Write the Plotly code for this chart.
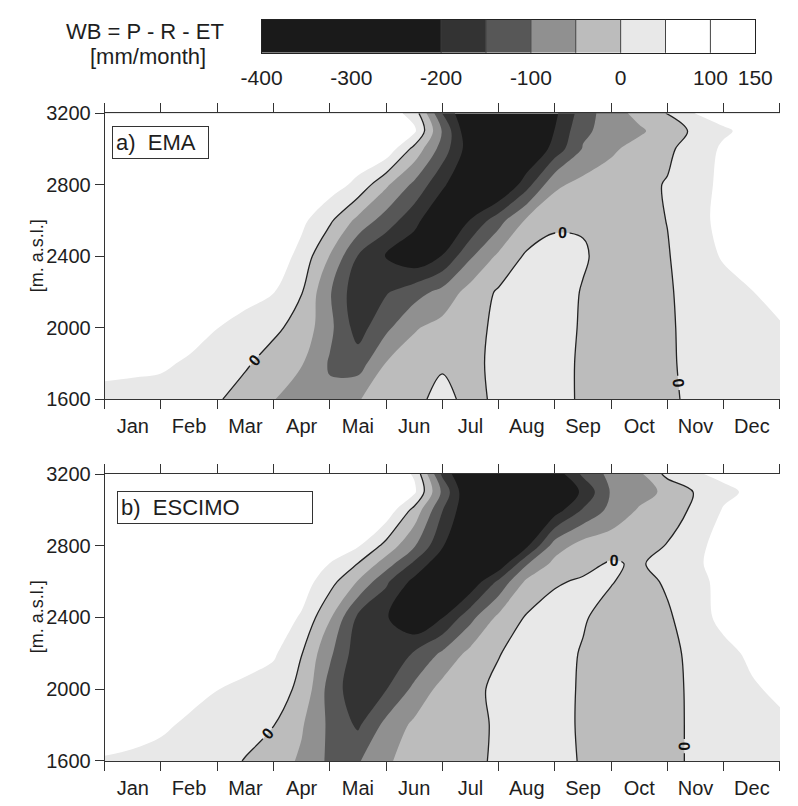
import plotly.graph_objects as go

# ---- data -------------------------------------------------------------
MONTHS = ["Jan", "Feb", "Mar", "Apr", "Mai", "Jun", "Jul", "Aug", "Sep", "Oct", "Nov", "Dec"]
MONTH_CENTERS = [0.5, 1.5, 2.5, 3.5, 4.5, 5.5, 6.5, 7.5, 8.5, 9.5, 10.5, 11.5]
ELEV_TICKS = [1600, 2000, 2400, 2800, 3200]

# time axis in months (0 = 1 Jan, 12 = 31 Dec), half-month steps
TIME_GRID = [0.0, 0.5, 1.0, 1.5, 2.0, 2.5, 3.0, 3.5, 4.0, 4.5, 5.0, 5.5, 6.0,
             6.5, 7.0, 7.5, 8.0, 8.5, 9.0, 9.5, 10.0, 10.5, 11.0, 11.5, 12.0]

# a) EMA water balance [mm/month], one row per elevation band
ELEV_EMA = [1600, 1800, 2000, 2200, 2400, 2600, 2800, 3000, 3100, 3200]
WB_EMA = [
    [40, 38, 35, 28, 5, -20, -48, -75, -90, -52, -35, -10, 12, -12, 8, 18, 14, -6, -22, -22, -8, 10, 20, 28, 35],
    [60, 58, 56, 45, 25, 6, -20, -47, -105, -125, -48, -25, -5, -8, 8, 18, 14, -6, -22, -22, -6, 12, 22, 32, 40],
    [90, 85, 78, 66, 51, 30, 10, -18, -88, -172, -112, -55, -33, -12, 8, 18, 15, -4, -22, -22, -5, 12, 25, 38, 47],
    [90, 90, 88, 85, 80, 70, 52, 2, -95, -185, -155, -122, -85, -30, 6, 22, 20, -3, -20, -20, -4, 14, 32, 49, 62],
    [90, 90, 90, 90, 90, 88, 85, 32, -52, -152, -202, -240, -198, -107, -40, 8, 22, 5, -18, -22, -3, 27, 55, 70, 78],
    [90, 90, 90, 90, 90, 90, 90, 62, 9, -64, -123, -183, -255, -198, -120, -42, -12, -5, -12, -15, 1, 39, 60, 72, 78],
    [90, 90, 90, 90, 90, 90, 90, 90, 75, 37, -41, -111, -190, -260, -270, -170, -60, -35, -26, -12, 3, 37, 58, 70, 75],
    [88, 88, 88, 88, 88, 88, 88, 88, 88, 88, 85, -15, -122, -230, -285, -260, -180, -96, -58, -32, -9, 23, 58, 70, 75],
    [85, 85, 85, 85, 85, 85, 85, 85, 85, 85, 80, 60, -104, -250, -290, -270, -198, -110, -80, -58, -25, 10, 43, 65, 75],
    [80, 80, 80, 80, 80, 80, 80, 80, 80, 80, 78, 30, -152, -260, -300, -280, -210, -125, -72, -35, 2, 52, 70, 78, 80],
]

# b) ESCIMO water balance [mm/month]
ELEV_ESCIMO = [1600, 1800, 2000, 2200, 2400, 2600, 2700, 2800, 3000, 3100, 3200]
WB_ESCIMO = [
    [48, 45, 38, 30, 15, -2, -25, -58, -110, -105, -55, -35, -25, -12, 8, 20, 15, -4, -25, -28, -12, 8, 20, 28, 35],
    [62, 60, 56, 44, 30, 15, 1, -45, -110, -158, -85, -40, -25, -12, 6, 18, 15, -6, -25, -28, -12, 8, 22, 32, 42],
    [90, 82, 72, 62, 51, 35, 20, -10, -120, -185, -152, -88, -32, -12, 10, 20, 14, -5, -25, -28, -14, 10, 25, 45, 58],
    [90, 90, 90, 88, 85, 78, 58, 1, -90, -178, -190, -145, -92, -35, -2, 18, 18, -4, -24, -28, -12, 12, 38, 58, 70],
    [90, 90, 90, 90, 90, 90, 82, 44, -45, -160, -195, -250, -202, -115, -38, 5, 20, 5, -20, -25, -8, 32, 62, 75, 80],
    [90, 90, 90, 90, 90, 90, 90, 75, 19, -53, -141, -215, -270, -240, -140, -40, -5, 6, 3, -20, 8, 38, 62, 75, 80],
    [90, 90, 90, 90, 90, 90, 90, 80, 49, -1, -75, -160, -240, -280, -240, -105, -35, -14, 5, -6, 20, 44, 65, 76, 80],
    [90, 90, 90, 90, 90, 90, 90, 90, 80, 55, -16, -95, -195, -275, -285, -210, -75, -30, -22, -15, 2, 42, 62, 74, 80],
    [90, 90, 90, 90, 90, 90, 90, 90, 90, 90, 85, -15, -148, -250, -295, -290, -225, -145, -85, -45, -20, 8, 54, 70, 78],
    [85, 85, 85, 85, 85, 85, 85, 85, 85, 85, 80, 60, -110, -260, -300, -300, -260, -190, -95, -68, -40, 4, 38, 60, 72],
    [85, 85, 85, 85, 85, 85, 85, 85, 85, 85, 85, 45, -160, -280, -310, -300, -230, -140, -85, -60, 15, 45, 62, 72, 78],
]

# contour levels and grey shades (below -200 ... above 50)
LEVEL_START, LEVEL_END, LEVEL_STEP = -200, 50, 50
BAND_COLORS = ["#1a1a1a", "#333333", "#575757", "#909090", "#bcbcbc", "#e8e8e8", "#ffffff"]

# legend bar: class edges, class midpoints and their shades
LEGEND_EDGES = [-400, -200, -150, -100, -50, 0, 50, 100, 150]
LEGEND_MIDS = [-300, -175, -125, -75, -25, 25, 75, 125]
LEGEND_COLORS = ["#1a1a1a", "#333333", "#575757", "#909090", "#bcbcbc", "#e8e8e8", "#ffffff", "#ffffff"]
LEGEND_TICKS = [-400, -300, -200, -100, 0, 100, 150]

FONT = "Liberation Sans, Arial, sans-serif"
INK = "#1e1e1e"
AXIS = "#333333"

# ---- figure -------------------------------------------------------------
W, H = 798, 806
fig = go.Figure()

n_bands = len(BAND_COLORS)
fill_scale = [[k / (n_bands - 1), c] for k, c in enumerate(BAND_COLORS)]


def add_panel(elev, wb, xa, ya):
    fig.add_trace(go.Contour(
        x=TIME_GRID, y=elev, z=wb, xaxis=xa, yaxis=ya,
        autocontour=False,
        contours=dict(start=LEVEL_START, end=LEVEL_END, size=LEVEL_STEP, coloring="fill"),
        colorscale=fill_scale, showscale=False,
        line=dict(width=0, smoothing=1), hoverinfo="skip",
    ))
    fig.add_trace(go.Contour(
        x=TIME_GRID, y=elev, z=wb, xaxis=xa, yaxis=ya,
        autocontour=False,
        contours=dict(start=0, end=0, size=LEVEL_STEP, coloring="none",
                      showlabels=True,
                      labelfont=dict(size=16, color="#111111", family=FONT, weight="bold")),
        line=dict(color="#222222", width=1.3, smoothing=1),
        showscale=False, hoverinfo="skip",
    ))


add_panel(ELEV_EMA, WB_EMA, "x", "y")
add_panel(ELEV_ESCIMO, WB_ESCIMO, "x2", "y2")

# legend bar drawn as a one-row heatmap on its own axis
lo, hi = LEGEND_EDGES[0], LEGEND_EDGES[-1]
legend_scale = [[0.0, LEGEND_COLORS[0]]]
for m, c in zip(LEGEND_MIDS, LEGEND_COLORS):
    legend_scale.append([(m - lo) / (hi - lo), c])
legend_scale.append([1.0, LEGEND_COLORS[-1]])
fig.add_trace(go.Heatmap(
    x=LEGEND_EDGES, y=[0, 1], z=[LEGEND_MIDS], xaxis="x3", yaxis="y3",
    zmin=lo, zmax=hi, colorscale=legend_scale, showscale=False, hoverinfo="skip",
))


def px_x(p):
    return p / W


def px_y(p):
    return 1 - p / H


x_dom = [px_x(88), 1.0]
xcommon = dict(
    range=[0, 12], tickvals=MONTH_CENTERS, ticktext=MONTHS,
    ticks="outside", ticklen=9, tickcolor="rgba(0,0,0,0)",
    tickfont=dict(size=20, color=INK, family=FONT),
    showline=True, linecolor=AXIS, linewidth=1, mirror="ticks",
    showgrid=False, zeroline=False,
    minor=dict(ticks="outside", ticklen=9, tickcolor=AXIS, tick0=0, dtick=1, showgrid=False),
)
ycommon = dict(
    range=[1600, 3200], tickvals=ELEV_TICKS,
    ticks="outside", ticklen=9, tickcolor=AXIS,
    tickfont=dict(size=20, color=INK, family=FONT),
    showline=True, linecolor=AXIS, linewidth=1,
    showgrid=False, zeroline=False,
)

fig.update_layout(
    width=W, height=H,
    margin=dict(l=0, r=0, t=0, b=0),
    paper_bgcolor="white", plot_bgcolor="white",
    font=dict(family=FONT, color=INK),
    showlegend=False,
    xaxis=dict(domain=x_dom, anchor="y", **xcommon),
    yaxis=dict(domain=[px_y(399), px_y(105)], anchor="x", **ycommon),
    xaxis2=dict(domain=x_dom, anchor="y2", **xcommon),
    yaxis2=dict(domain=[px_y(771), px_y(476)], anchor="x2", **ycommon),
    xaxis3=dict(
        domain=[px_x(253), px_x(772)], anchor="y3", range=[lo, hi],
        tickvals=LEGEND_TICKS, ticktext=["-400", "-300", "-200", "-100", "0", "100", "150"],
        ticks="outside", ticklen=6, tickcolor="rgba(0,0,0,0)",
        tickfont=dict(size=21, color=INK, family=FONT),
        showline=True, linecolor="#222222", linewidth=1, mirror=True,
        showgrid=False, zeroline=False,
    ),
    yaxis3=dict(
        domain=[px_y(43), px_y(9)], anchor="x3", range=[0, 1],
        showticklabels=False, ticks="", showline=True, linecolor="#222222",
        linewidth=1, mirror=True, showgrid=False, zeroline=False,
    ),
)

# class separators inside the legend bar
for e in LEGEND_EDGES[1:-1]:
    fig.add_shape(type="line", xref="x3", yref="y3 domain", x0=e, x1=e, y0=0, y1=1,
                  line=dict(color="#444444", width=1))

annotations = [
    dict(text="WB = P - R - ET", x=px_x(130), y=px_y(21), font=dict(size=22)),
    dict(text="[mm/month]", x=px_x(134), y=px_y(47), font=dict(size=22)),
    dict(text="[m. a.s.l.]", x=px_x(17), y=px_y(252), textangle=-90, font=dict(size=18)),
    dict(text="[m. a.s.l.]", x=px_x(17), y=px_y(623), textangle=-90, font=dict(size=18)),
]
for a in annotations:
    a.update(xref="paper", yref="paper", showarrow=False, xanchor="center", yanchor="middle")
    fig.add_annotation(**a)

# panel captions in framed boxes
fig.add_annotation(
    text="a)\u00a0\u00a0EMA", xref="paper", yref="paper",
    x=px_x(96), y=px_y(118), xanchor="left", yanchor="top",
    width=89, height=25, align="left", valign="middle",
    showarrow=False, font=dict(size=22, color=INK),
    bordercolor=AXIS, borderwidth=1, borderpad=3, bgcolor="white",
)
fig.add_annotation(
    text="b)\u00a0\u00a0ESCIMO", xref="paper", yref="paper",
    x=px_x(101), y=px_y(493), xanchor="left", yanchor="top",
    width=188, height=25, align="left", valign="middle",
    showarrow=False, font=dict(size=22, color=INK),
    bordercolor=AXIS, borderwidth=1, borderpad=3, bgcolor="white",
)

fig.write_html("out.html")
